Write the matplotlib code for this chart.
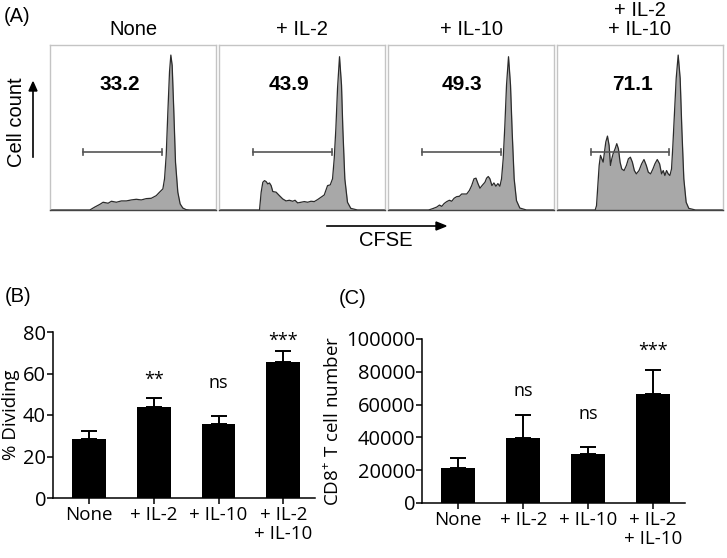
import numpy as np
import matplotlib.pyplot as plt

# --------------------------
# Data
# --------------------------
GROUPS = ["None", "+ IL-2", "+ IL-10", "+ IL-2\n+ IL-10"]
GATE_PCT = ["33.2", "43.9", "49.3", "71.1"]

# CFSE histograms (x = % of panel width, y = % of panel height)
hist_x_none = [0, 24, 25, 27, 30, 32, 35, 37, 40, 43, 46, 49, 52, 55, 58, 61, 64, 66, 68, 69,
               70, 71, 72, 72.8, 73.6, 74.6, 75.6, 77, 78.4, 80, 82, 84, 100]
hist_y_none = [0, 0, 0.6, 1.8, 3.4, 4.7, 4.1, 5.3, 4.7, 5.5, 5.5, 6.1, 6.5, 6.1, 6.9, 7.1, 8.7, 10.8,
               12.8, 18.9, 33.1, 59.4, 83.8, 93.9, 87.6, 59.4, 29.0, 10.8, 3.7, 1.2, 0.2, 0, 0]

hist_x_il2 = [0, 23.4, 24.4, 25.4, 26.4, 27.4, 28.4, 29.4, 30.4, 31.4, 32.4, 34.4, 36.4, 38.4, 40.4,
              42.4, 44.4, 45.8, 47.4, 49.4, 51.4, 53.4, 55.4, 57.4, 59.4, 61.4, 63.4, 65.4, 67.0,
              68.4, 69.4, 70.4, 71.4, 72.6, 73.8, 74.6, 75.8, 77.4, 79.4, 83.4, 100]
hist_y_il2 = [0, 0, 0, 10.8, 16.8, 17.8, 17.2, 15.8, 16.4, 14.8, 11.2, 10.8, 8.7, 6.7, 5.5, 5.9,
              5.3, 5.9, 4.3, 4.7, 5.1, 4.7, 5.3, 5.1, 6.3, 7.7, 9.1, 14.8, 15.2, 18.9, 31.0, 49.3,
              73.6, 92.9, 75.7, 49.3, 18.9, 4.7, 1.0, 0, 0]

hist_x_il10 = [0, 24.4, 25.4, 27.4, 29.4, 31.0, 32.4, 33.8, 35.4, 37.0, 38.4, 39.8, 41.4, 43.0, 44.4,
               45.8, 47.4, 49.0, 50.4, 51.8, 53.0, 54.2, 55.4, 57.0, 58.4, 59.4, 60.4, 61.4, 62.6,
               63.8, 65.0, 66.2, 67.4, 68.4, 69.4, 70.4, 71.4, 72.6, 73.8, 74.8, 76.0, 77.4, 79.4,
               83.4, 100]
hist_y_il10 = [0, 0, 0.3, 1.0, 1.8, 3.0, 2.2, 3.9, 5.1, 5.9, 5.3, 7.1, 8.1, 8.3, 9.7, 9.7, 9.7,
               11.8, 14.8, 18.9, 19.3, 16.0, 13.2, 15.2, 16.8, 19.3, 20.3, 18.9, 14.8, 16.4, 14.4,
               16.0, 14.4, 18.9, 31.0, 51.3, 75.7, 92.9, 75.7, 47.3, 18.9, 5.7, 1.2, 0, 0]

hist_x_both = [0, 23.0, 23.8, 24.6, 25.4, 26.2, 27.0, 27.8, 28.6, 29.4, 30.4, 31.4, 32.2, 33.0, 33.8,
               35.0, 36.0, 37.0, 38.0, 39.0, 40.4, 41.8, 43.0, 44.2, 45.4, 46.6, 47.8, 49.4, 51.0,
               52.4, 53.8, 55.0, 56.4, 57.8, 59.0, 60.4, 61.8, 63.0, 64.0, 65.0, 66.0, 67.0, 68.0,
               69.0, 69.8, 70.8, 71.8, 73.0, 74.2, 75.2, 76.4, 77.8, 79.4, 83.4, 100]
hist_y_both = [0, 0, 2.6, 14.8, 27.0, 33.1, 31.0, 29.0, 35.1, 41.2, 44.8, 39.1, 27.0, 31.0, 34.1,
               37.1, 40.2, 37.1, 29.0, 24.9, 23.9, 27.0, 31.0, 32.0, 29.0, 23.9, 21.9, 23.9, 28.0,
               30.6, 27.0, 22.9, 21.9, 24.9, 28.0, 30.6, 28.0, 21.9, 23.9, 20.9, 23.9, 21.9, 20.9,
               24.9, 39.1, 59.4, 79.7, 93.9, 79.7, 49.3, 18.9, 4.7, 1.0, 0, 0]

gate_x0 = [20.0, 20.4, 20.4, 20.4]
gate_x1 = [67.6, 68.0, 68.0, 67.6]
gate_y = 35.1
label_x = [42.0, 42.4, 44.4, 45.4]
label_y = 76.0

# (B) % dividing
div_mean = [28.4, 43.7, 35.7, 65.4]
div_err = [4.1, 4.3, 3.9, 5.4]
div_sig = ["", "**", "ns", "***"]

# (C) CD8+ T cell number
cd8_mean = [21600, 39400, 29600, 66700]
cd8_err = [5900, 14100, 4300, 14300]
cd8_sig = ["", "ns", "ns", "***"]

# --------------------------
# Layout
# --------------------------
W, H = 727, 558
fig = plt.figure(figsize=(W / 100, H / 100), dpi=100)
plt.rcParams['mathtext.fontset'] = 'custom'
plt.rcParams['mathtext.rm'] = 'Open Sans'

HELV = "Liberation Sans"
PRISM = "Open Sans"


def px_axes(x0, y_top, x1, y_bot):
    return fig.add_axes([x0 / W, 1 - y_bot / H, (x1 - x0) / W, (y_bot - y_top) / H])


# --------------------------
# (A) histograms
# --------------------------
hists = [(hist_x_none, hist_y_none), (hist_x_il2, hist_y_il2),
         (hist_x_il10, hist_y_il10), (hist_x_both, hist_y_both)]
box_left = [50, 219, 388, 557]
for i, (hx, hy) in enumerate(hists):
    ax = px_axes(box_left[i], 45, box_left[i] + 166, 210)
    ax.fill_between(hx, hy, 0, color='#a8a8a8', lw=0)
    ax.plot(hx, hy, color='#2b2b2b', lw=0.9)
    ax.plot([gate_x0[i], gate_x1[i]], [gate_y, gate_y], color='#555555', lw=1.2)
    for gx in (gate_x0[i], gate_x1[i]):
        ax.plot([gx, gx], [gate_y - 1.8, gate_y + 1.8], color='#555555', lw=1.2)
    ax.text(label_x[i], label_y, GATE_PCT[i], ha='center', va='center',
            fontsize=15, fontweight='bold', family=HELV)
    ax.set_xlim(0, 100)
    ax.set_ylim(0, 100)
    ax.set_xticks([])
    ax.set_yticks([])
    for s in ('top', 'left', 'right'):
        ax.spines[s].set_color('#c4c4c4')
        ax.spines[s].set_linewidth(1.0)
    ax.spines['bottom'].set_color('#444444')
    ax.spines['bottom'].set_linewidth(1.0)
    fig.text((box_left[i] + 83) / W, 1 - 39 / H, GROUPS[i], ha='center', va='bottom',
             fontsize=14.5, family=HELV, linespacing=1.0)

fig.text(4 / W, 1 - 16 / H, "(A)", ha='left', va='center', fontsize=14.5, family=HELV)
fig.text(17 / W, 1 - 122 / H, "Cell count", rotation=90, ha='center', va='center',
         fontsize=14.5, family=HELV)
fig.add_artist(plt.Line2D([33 / W, 33 / W], [1 - 157 / H, 1 - 90 / H], color='black', lw=1.2))
fig.patches.append(plt.Polygon([[29 / W, 1 - 91 / H], [37 / W, 1 - 91 / H], [33 / W, 1 - 82 / H]],
                               closed=True, color='black', transform=fig.transFigure))
fig.add_artist(plt.Line2D([327 / W, 437 / W], [1 - 226 / H, 1 - 226 / H], color='black', lw=1.2))
fig.patches.append(plt.Polygon([[436 / W, 1 - 222 / H], [436 / W, 1 - 230 / H], [446 / W, 1 - 226 / H]],
                               closed=True, color='black', transform=fig.transFigure))
fig.text(386 / W, 1 - 241 / H, "CFSE", ha='center', va='center', fontsize=14.5, family=HELV)


# --------------------------
# (B) and (C) bar charts
# --------------------------
def bar_panel(ax, means, errs, sigs, ymax, yticks, ylabel, sig_y):
    x = np.arange(len(GROUPS))
    ax.bar(x, means, width=0.52, color='black', zorder=2)
    ax.errorbar(x, means, yerr=[np.zeros(len(errs)), errs], fmt='none', ecolor='black',
                elinewidth=1.4, capsize=6, capthick=1.4, zorder=1)
    for xi, s, yy in zip(x, sigs, sig_y):
        if s:
            ax.text(xi, yy, s, ha='center', va='center', fontsize=13, family=PRISM)
    ax.set_xlim(-0.56, 3.49)
    ax.set_ylim(0, ymax)
    ax.set_yticks(yticks)
    ax.set_xticks(x)
    ax.set_xticklabels(GROUPS, fontsize=13.5, family=PRISM, linespacing=1.05)
    ax.tick_params(axis='y', labelsize=14.5, width=1.1, length=4, pad=1)
    ax.tick_params(axis='x', width=1.1, length=4, pad=2)
    for lab in ax.get_yticklabels():
        lab.set_family(PRISM)
    ax.spines['top'].set_visible(False)
    ax.spines['right'].set_visible(False)
    ax.spines['left'].set_linewidth(1.1)
    ax.spines['bottom'].set_linewidth(1.1)
    ax.set_ylabel(ylabel, fontsize=13.5, family=PRISM, labelpad=2)


axB = px_axes(53, 332, 315, 498)
bar_panel(axB, div_mean, div_err, div_sig, 80, [0, 20, 40, 60, 80], "% Dividing",
          [0, 57.0, 55.5, 75.5])
fig.text(5 / W, 1 - 297 / H, "(B)", ha='left', va='center', fontsize=14.5, family=HELV)

axC = px_axes(422, 339, 685, 503)
bar_panel(axC, cd8_mean, cd8_err, cd8_sig, 100000, [0, 20000, 40000, 60000, 80000, 100000],
          r"CD8$^{+}$ T cell number", [0, 68500, 54500, 92500])
fig.text(339 / W, 1 - 298 / H, "(C)", ha='left', va='center', fontsize=14.5, family=HELV)

fig.savefig("out.png", dpi=100)
